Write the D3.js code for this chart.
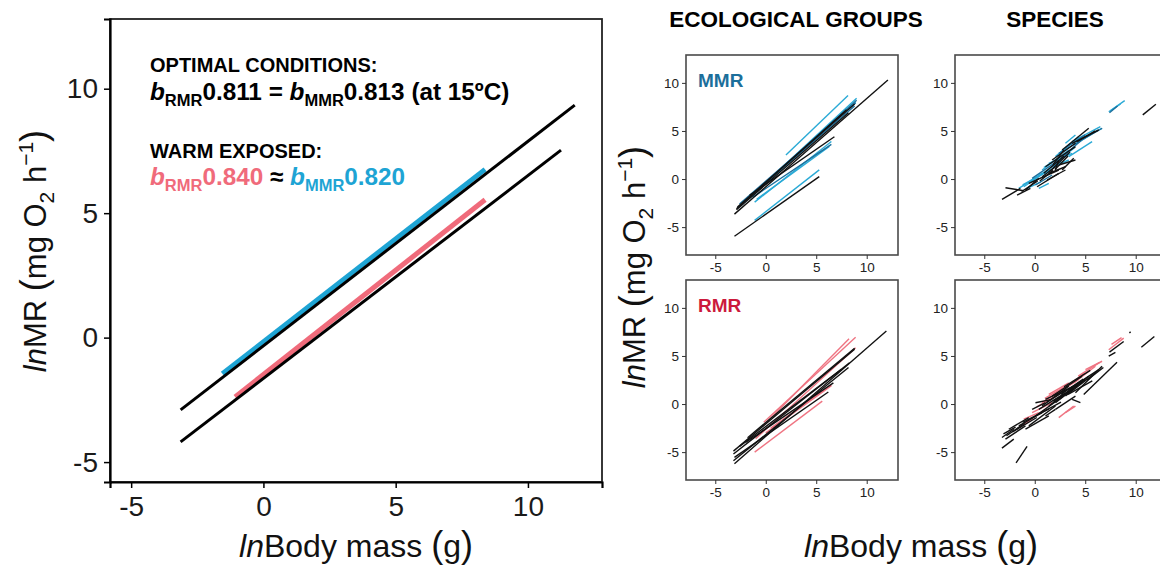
<!DOCTYPE html>
<html><head><meta charset="utf-8">
<script src="https://cdn.jsdelivr.net/npm/d3@7"></script>
<style>
body{margin:0;background:#fff}
svg{display:block}
text{font-family:"Liberation Sans",Arial,Helvetica,sans-serif}
</style>
</head><body><svg id="c" width="1160" height="567"></svg>
<script>
// ---------------- DATA ----------------
const mainTicks = [-5, 0, 5, 10];
const smallTicks = [-5, 0, 5, 10];

// main panel regression lines
const mainSeries = ["MMR warm", "RMR warm", "MMR optimal", "RMR optimal"];
const mainStartX = [-1.55, -1.07, -3.13, -3.13];
const mainStartY = [-1.45, -2.38, -2.90, -4.19];
const mainEndX   = [ 8.38,  8.38, 11.77, 11.25];
const mainEndY   = [ 6.76,  5.54,  9.34,  7.53];

// small panels: [x1, y1, x2, y2, group]  (k = black, c = light blue, d = dark blue, p = pink)
const ecoMMR = [
  [-1.1,-4.3,5.3,0.95,"c"],
  [2.0,2.5,8.15,8.7,"c"],
  [-2.5,-2.8,9.0,8.4,"c"],
  [-1.6,-2.0,8.9,8.0,"c"],
  [-1.1,-2.4,6.5,3.9,"c"],
  [-0.9,-2.1,6.3,3.4,"c"],
  [-2.8,-3.0,9.0,8.2,"d"],
  [-2.6,-2.6,8.9,7.9,"d"],
  [-1.3,-1.9,6.5,3.6,"d"],
  [-2.0,-2.2,8.8,7.6,"d"],
  [-3.1,-3.65,12.1,10.3,"k"],
  [-3.1,-5.95,5.3,0.25,"k"],
  [-2.9,-3.1,8.0,7.2,"k"],
  [-2.8,-2.9,8.8,7.8,"k"],
  [-2.9,-3.2,8.2,6.9,"k"],
  [-1.6,-1.7,6.8,4.4,"k"]
];
const ecoRMR = [
  [-0.3,-2.3,8.25,6.8,"p"],
  [-0.2,-1.9,8.9,6.95,"p"],
  [-1.1,-5.0,5.6,0.3,"p"],
  [-1.0,-3.6,8.9,5.85,"p"],
  [0.0,-3.0,6.5,1.9,"p"],
  [0.5,-2.5,6.5,2.0,"p"],
  [-3.1,-6.2,11.95,7.6,"k"],
  [-3.1,-5.55,6.2,1.25,"k"],
  [-3.2,-4.9,8.8,5.7,"k"],
  [-3.2,-5.2,8.3,4.3,"k"],
  [-3.2,-5.9,8.2,3.8,"k"],
  [-2.0,-4.0,6.7,2.2,"k"],
  [-1.8,-3.5,8.8,5.8,"k"],
  [-2.6,-4.4,7.5,3.6,"k"]
];
const spMMR = [
  [-1.58,-0.97,0.73,0.59,"c"],
  [-1.09,-0.8,1.39,0.94,"c"],
  [0.40,-0.97,1.39,-0.45,"c"],
  [0.73,0.94,3.37,3.02,"c"],
  [1.39,1.63,3.70,2.67,"c"],
  [2.05,2.33,4.36,4.41,"c"],
  [3.04,3.72,4.03,4.58,"c"],
  [3.37,3.54,6.67,5.28,"c"],
  [3.37,2.33,5.68,3.89,"c"],
  [3.70,3.89,6.50,5.45,"c"],
  [1.88,1.28,3.37,1.98,"c"],
  [-1.2,-0.6,0.2,0.2,"c"],
  [-0.5,-0.3,1.5,1.0,"c"],
  [0.2,0.2,2.2,1.6,"c"],
  [1.0,0.5,2.7,1.8,"c"],
  [2.2,1.8,4.0,3.3,"c"],
  [4.0,3.6,6.3,5.1,"c"],
  [0.9,1.2,2.5,2.3,"c"],
  [-0.8,-1.0,0.6,-0.3,"c"],
  [7.33,7.0,8.91,8.16,"c"],
  [7.5,7.1,8.5,7.8,"c"],
  [-0.26,0.07,2.38,1.98,"d"],
  [2.38,2.67,6.67,5.28,"d"],
  [0.07,-0.62,1.72,0.42,"d"],
  [1.6,1.2,3.3,2.6,"d"],
  [2.6,2.2,4.6,4.0,"d"],
  [3.0,3.2,5.0,4.6,"d"],
  [7.4,6.9,8.2,7.6,"d"],
  [-3.24,-2.12,-1.42,-0.97,"k"],
  [-2.9,-0.9,-1.09,-1.22,"k"],
  [-1.75,-1.67,-0.43,-0.97,"k"],
  [-0.59,-0.45,2.38,0.94,"k"],
  [0.23,-0.8,2.38,0.59,"k"],
  [1.22,-0.1,3.04,0.94,"k"],
  [1.06,1.28,4.03,3.37,"k"],
  [1.72,1.98,4.03,3.72,"k"],
  [2.38,1.46,4.03,1.98,"k"],
  [2.71,3.02,5.35,5.28,"k"],
  [3.70,3.72,6.34,5.10,"k"],
  [2.71,0.94,3.86,2.15,"k"],
  [0.73,0.24,2.05,1.28,"k"],
  [-0.92,-1.15,0.40,0.07,"k"],
  [1.39,0.59,3.04,1.28,"k"],
  [2.05,0.94,2.38,1.98,"k"],
  [0.9,0.6,2.9,2.4,"k"],
  [0.5,-0.2,1.8,0.9,"k"],
  [1.5,0.8,3.5,2.8,"k"],
  [2.0,1.0,3.3,2.4,"k"],
  [4.2,3.9,6.0,5.0,"k"],
  [-1.3,-1.3,0.3,-0.2,"k"],
  [1.8,1.5,2.9,3.0,"k"],
  [10.7,6.67,12.0,7.78,"k"]
];
const spRMR = [
  [-0.92,-1.93,1.06,-0.55,"p"],
  [-0.26,-0.9,1.72,0.14,"p"],
  [0.73,0.14,2.71,1.52,"p"],
  [1.39,1.0,3.37,2.2,"p"],
  [2.38,1.17,4.36,2.55,"p"],
  [2.71,1.52,5.02,3.24,"p"],
  [3.86,2.2,6.01,3.93,"p"],
  [5.02,3.58,6.67,4.45,"p"],
  [2.38,-1.41,3.86,-0.21,"p"],
  [3.04,-0.9,4.03,-0.21,"p"],
  [-1.09,-1.58,0.4,-0.9,"p"],
  [0.2,-0.3,2.2,0.9,"p"],
  [1.0,0.6,3.0,1.8,"p"],
  [4.3,2.9,6.4,4.3,"p"],
  [-1.5,-2.4,-0.2,-1.5,"p"],
  [7.33,5.65,8.81,6.86,"p"],
  [7.6,6.2,8.6,6.9,"p"],
  [-1.85,-6.13,-0.76,-4.41,"k"],
  [-3.25,-4.58,-2.08,-3.65,"k"],
  [-3.25,-3.48,-2.08,-2.62,"k"],
  [-3.1,-3.1,-1.9,-2.4,"k"],
  [-2.9,-3.65,-0.92,-2.27,"k"],
  [-2.57,-2.62,-0.59,-1.41,"k"],
  [-2.2,-2.9,0.2,-1.4,"k"],
  [-2.8,-3.3,-1.0,-2.0,"k"],
  [-1.58,-2.27,0.73,-0.9,"k"],
  [-1.2,-1.9,1.4,-0.5,"k"],
  [-0.92,-2.62,1.39,-1.24,"k"],
  [-0.59,-2.27,2.05,-0.21,"k"],
  [0.07,-1.24,2.38,0.48,"k"],
  [0.5,-1.0,2.6,0.2,"k"],
  [0.4,-0.55,3.04,1.17,"k"],
  [0.73,-0.21,3.37,1.86,"k"],
  [1.06,0.48,3.86,1.86,"k"],
  [1.2,0.2,3.2,1.5,"k"],
  [1.39,-0.21,4.36,2.2,"k"],
  [1.72,0.83,4.69,2.89,"k"],
  [1.8,0.3,3.9,1.6,"k"],
  [2.05,-0.55,4.03,0.83,"k"],
  [2.05,0.14,5.02,2.55,"k"],
  [2.38,0.48,5.35,2.89,"k"],
  [2.6,1.0,4.8,2.6,"k"],
  [2.9,1.8,5.5,3.5,"k"],
  [3.04,0.83,6.01,3.24,"k"],
  [3.3,1.0,5.7,2.4,"k"],
  [3.37,1.52,6.34,3.58,"k"],
  [4.03,1.17,6.67,3.93,"k"],
  [5.2,2.5,6.8,3.8,"k"],
  [4.85,1.0,8.15,4.34,"k"],
  [3.7,0.48,4.52,0.14,"k"],
  [-0.26,-0.55,1.06,0.14,"k"],
  [0.07,0.14,1.72,0.48,"k"],
  [1.06,-1.24,2.05,-0.55,"k"],
  [7.33,4.98,7.99,5.38,"k"],
  [7.4,5.4,8.81,6.5,"k"],
  [9.37,7.4,9.5,7.5,"k"],
  [10.56,5.9,11.85,7.03,"k"]
];

// ---------------- STYLE ----------------
const FONT = '"Liberation Sans",Arial,Helvetica,sans-serif';
const BLUE = "#1ea4d4", PINK = "#f06b7b";
const mainColor = {"MMR warm": BLUE, "RMR warm": PINK, "MMR optimal": "#000", "RMR optimal": "#000"};
const mainWidth = {"MMR warm": 5, "RMR warm": 5, "MMR optimal": 3, "RMR optimal": 3};
const groupColor = {k: "#111", c: "#2aaad6", d: "#1b6f9c", p: "#ef7482"};

const svg = d3.select("#c");

// ---------------- MAIN PANEL ----------------
const M = {l: 110, r: 602, t: 19, b: 482};
const x = d3.scaleLinear().domain([-5.8, 12.8]).range([M.l, M.r]);
const y = d3.scaleLinear().domain([-5.8, 12.8]).range([M.b, M.t]);

svg.append("rect").attr("x", M.l).attr("y", M.t).attr("width", M.r - M.l).attr("height", M.b - M.t)
  .attr("fill", "none").attr("stroke", "#222").attr("stroke-width", 1.8);

const ax = svg.append("g").attr("transform", `translate(0,${M.b})`)
  .call(d3.axisBottom(x).tickValues(mainTicks).tickSize(6).tickPadding(8).tickFormat(d => String(d)));
const ay = svg.append("g").attr("transform", `translate(${M.l},0)`)
  .call(d3.axisLeft(y).tickValues(mainTicks).tickSize(6).tickPadding(6).tickFormat(d => String(d)));
[ax, ay].forEach(g => {
  g.select(".domain").attr("stroke", "#000").attr("stroke-width", 2.2);
  g.selectAll(".tick line").attr("stroke", "#000").attr("stroke-width", 1.5);
  g.selectAll(".tick text").attr("font-size", 28).attr("fill", "#1a1a1a").attr("font-family", FONT);
});

const mainIdx = d3.range(mainSeries.length);
svg.append("g").selectAll("line").data(mainIdx).join("line")
  .attr("x1", i => x(mainStartX[i])).attr("y1", i => y(mainStartY[i]))
  .attr("x2", i => x(mainEndX[i])).attr("y2", i => y(mainEndY[i]))
  .attr("stroke", i => mainColor[mainSeries[i]])
  .attr("stroke-width", i => mainWidth[mainSeries[i]]);

// annotation text
function bsub(t, sub, rest, color) {
  t.append("tspan").attr("font-style", "italic").attr("fill", color).text("b");
  t.append("tspan").attr("font-size", 16.5).attr("dy", 6).attr("fill", color).text(sub);
  t.append("tspan").attr("dy", -6).attr("fill", color).text(rest);
}
const ann = svg.append("g").attr("font-weight", "bold");
ann.append("text").attr("x", 150).attr("y", 72).attr("font-size", 20).text("OPTIMAL CONDITIONS:");
const t2 = ann.append("text").attr("x", 150).attr("y", 100).attr("font-size", 24.3).attr("fill", "#000");
bsub(t2, "RMR", "0.811 = ", "#000");
bsub(t2, "MMR", "0.813 (at 15ºC)", "#000");
ann.append("text").attr("x", 150).attr("y", 158).attr("font-size", 20).text("WARM EXPOSED:");
const t4 = ann.append("text").attr("x", 150).attr("y", 185).attr("font-size", 24.3);
bsub(t4, "RMR", "0.840", PINK);
t4.append("tspan").attr("fill", "#000").text(" ≈ ");
bsub(t4, "MMR", "0.820", BLUE);

// axis titles
function yTitle(cx, cy) {
  const t = svg.append("text").attr("transform", `translate(${cx},${cy}) rotate(-90)`)
    .attr("text-anchor", "middle").attr("font-size", 31).attr("fill", "#111");
  t.append("tspan").attr("font-style", "italic").text("ln");
  t.append("tspan").text("MR ");
  t.append("tspan").attr("font-size", 36).text("(");
  t.append("tspan").text("mg O");
  t.append("tspan").attr("font-size", 21).attr("dy", 8).text("2");
  t.append("tspan").attr("dy", -8).text(" h");
  t.append("tspan").attr("font-size", 21).attr("dy", -13).text("−1");
  t.append("tspan").attr("font-size", 36).attr("dy", 13).text(")");
}
function xTitle(cx, cy) {
  const t = svg.append("text").attr("x", cx).attr("y", cy)
    .attr("text-anchor", "middle").attr("font-size", 32).attr("fill", "#111");
  t.append("tspan").attr("font-style", "italic").text("ln");
  t.append("tspan").text("Body mass ");
  t.append("tspan").attr("font-size", 36).text("(");
  t.append("tspan").text("g");
  t.append("tspan").attr("font-size", 36).text(")");
}
yTitle(46, 251);
xTitle(356, 557);
yTitle(645, 267);
xTitle(921, 557);

// ---------------- SMALL PANELS ----------------
const PW = 212, PH = 200;
function panel(left, top, segs, label, labelColor) {
  const sx = d3.scaleLinear().domain([-7.9, 13.1]).range([left, left + PW]);
  const sy = d3.scaleLinear().domain([-7.9, 12.9]).range([top + PH, top]);
  const g = svg.append("g");
  g.append("rect").attr("x", left).attr("y", top).attr("width", PW).attr("height", PH)
    .attr("fill", "#fff").attr("stroke", "#4a4a4a").attr("stroke-width", 1.6);
  const gx = g.append("g").attr("transform", `translate(0,${top + PH})`)
    .call(d3.axisBottom(sx).tickValues(smallTicks).tickSize(4).tickPadding(3).tickFormat(d => String(d)));
  const gy = g.append("g").attr("transform", `translate(${left},0)`)
    .call(d3.axisLeft(sy).tickValues(smallTicks).tickSize(4).tickPadding(3).tickFormat(d => String(d)));
  [gx, gy].forEach(a => {
    a.select(".domain").remove();
    a.selectAll(".tick line").attr("stroke", "#333");
    a.selectAll(".tick text").attr("font-size", 13.5).attr("fill", "#222").attr("font-family", FONT);
  });
  g.append("g").selectAll("line").data(segs).join("line")
    .attr("x1", d => sx(d[0])).attr("y1", d => sy(d[1]))
    .attr("x2", d => sx(d[2])).attr("y2", d => sy(d[3]))
    .attr("stroke", d => groupColor[d[4]]).attr("stroke-width", 1.4);
  if (label) {
    g.append("text").attr("x", left + 12).attr("y", sy(10) + 4)
      .attr("font-size", 19).attr("font-weight", "bold").attr("fill", labelColor).text(label);
  }
}
panel(686, 55, ecoMMR, "MMR", "#1c6f9b");
panel(955, 55, spMMR, null, null);
panel(686, 280, ecoRMR, "RMR", "#cc1a3c");
panel(955, 280, spRMR, null, null);

// column titles
svg.append("text").attr("x", 796).attr("y", 27).attr("text-anchor", "middle")
  .attr("font-size", 22.5).attr("font-weight", "bold").text("ECOLOGICAL GROUPS");
svg.append("text").attr("x", 1055).attr("y", 27).attr("text-anchor", "middle")
  .attr("font-size", 22.5).attr("font-weight", "bold").text("SPECIES");
</script>
</body></html>
